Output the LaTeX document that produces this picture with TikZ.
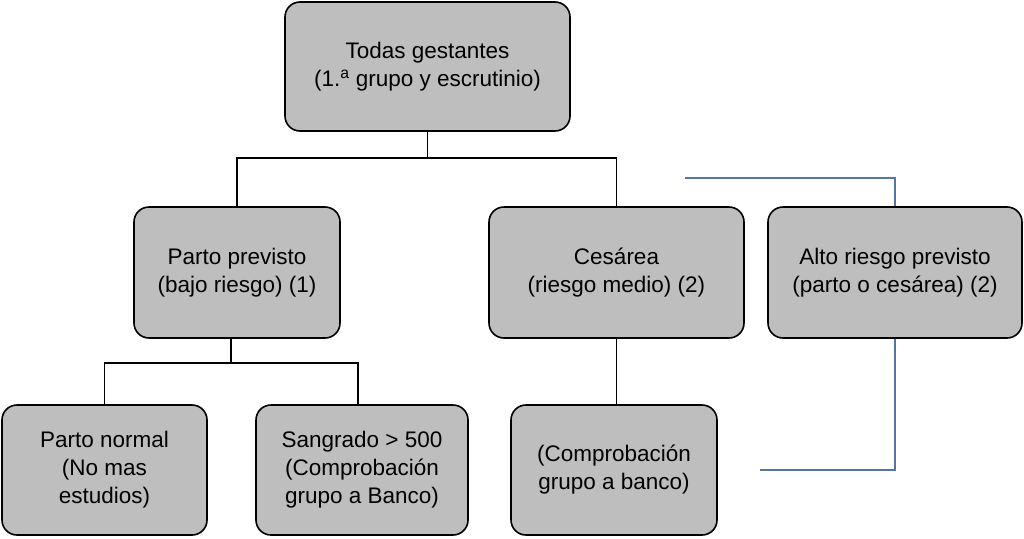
\documentclass[tikz,border=0pt]{standalone}
\usepackage{fontspec}
\setmainfont{Liberation Sans}
\usepackage{tikz}
\usetikzlibrary{positioning}

\definecolor{boxgray}{RGB}{190,190,190}
\definecolor{linkblue}{RGB}{84,118,160}

\begin{document}
\begin{tikzpicture}[
			x=1pt, y=-1pt,
			box/.style={draw=black, line width=1.6pt, fill=boxgray, rounded corners=15pt,
				align=center, font=\fontsize{22.5}{28}\selectfont, inner sep=0pt},
			link/.style={line width=1.5pt},
			bluelink/.style={linkblue, line width=1.2pt}
			]

			\useasboundingbox (0,0) rectangle (1024,538);

			% niveles
			\node[box, minimum width=285pt, minimum height=129pt] (todas) at (427.5,66.5) {Todas gestantes\\(1.\textsuperscript{a} grupo y escrutinio)};

			\node[box, minimum width=206pt, minimum height=131pt] (parto) at (237,272.5) {Parto previsto\\(bajo riesgo) (1)};
			\node[box, minimum width=255pt, minimum height=131pt] (cesarea) at (616.5,272.5) {Cesárea\\(riesgo medio) (2)};
			\node[box, minimum width=254pt, minimum height=131pt] (alto) at (895,272.5) {Alto riesgo previsto\\(parto o cesárea) (2)};

			\node[box, minimum width=205pt, minimum height=130pt] (normal) at (104.5,470) {Parto normal\\(No mas\\estudios)};
			\node[box, minimum width=212pt, minimum height=130pt] (sangrado) at (362,470) {Sangrado > 500\\(Comprobación\\grupo a Banco)};
			\node[box, minimum width=206pt, minimum height=130pt] (banco) at (614,470) {(Comprobación\\grupo a banco)};

			% conectores
			\draw[link] (todas.south) -- ++(0,26) -| (parto.north);
			\draw[link] (todas.south) -- ++(0,26) -| (cesarea.north);

			\draw[link] ([xshift=-6pt]parto.south) -- ++(0,24) -| (normal.north);
			\draw[link] ([xshift=-6pt]parto.south) -- ++(0,24) -| ([xshift=-4pt]sangrado.north);

			\draw[link] (cesarea.south) -- (cesarea.south |- banco.north);

			\coordinate (arriba) at (685,178);
			\coordinate (abajo) at (760,470);
			\draw[bluelink] (alto.north) |- (arriba);
			\draw[bluelink] (alto.south) |- (abajo);

			\end{tikzpicture}
\end{document}
